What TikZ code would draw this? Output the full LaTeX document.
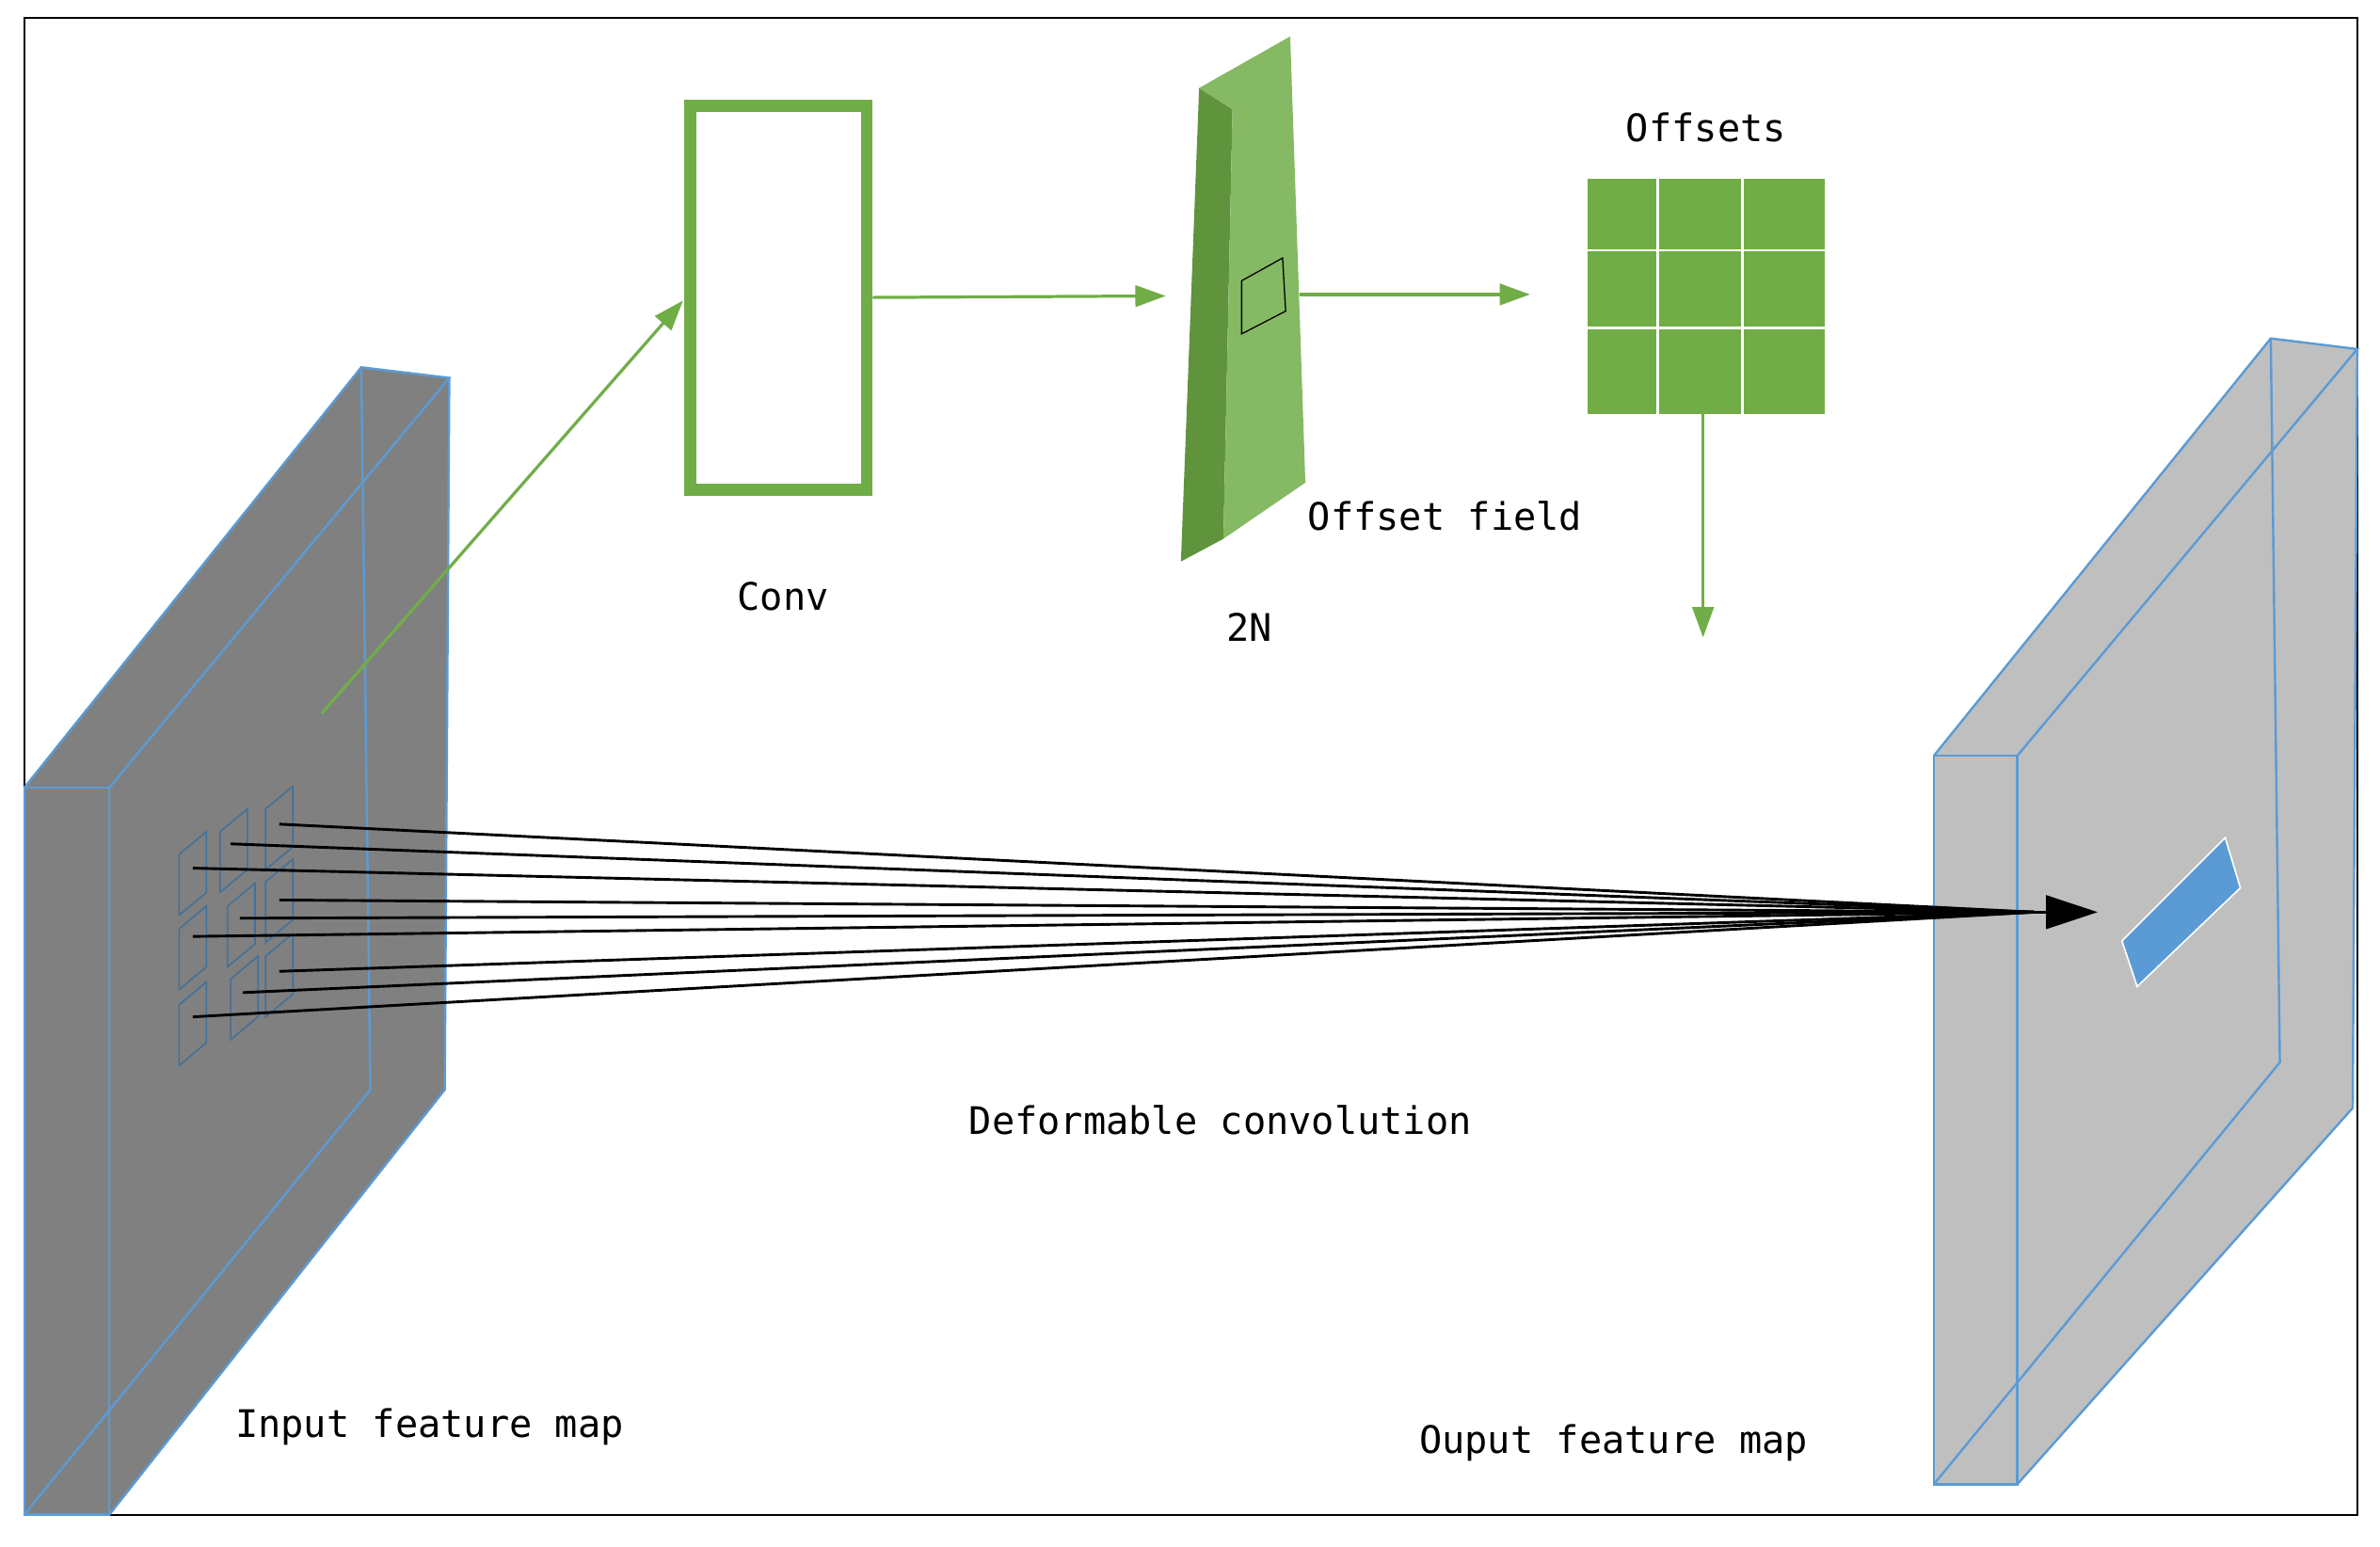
\documentclass[tikz,border=0pt]{standalone}
\usepackage{fontspec}
\setmainfont{DejaVu Sans Mono}
\usetikzlibrary{arrows.meta}
\definecolor{gr}{HTML}{70AD47}
\definecolor{bl}{HTML}{5B9BD5}
\definecolor{sq}{HTML}{41719C}
\begin{document}
\begin{tikzpicture}[x=1pt,y=-1pt,
  edge/.style={bl,line width=1.5pt},
  garrow/.style={gr,line width=2pt,-{Triangle[length=20pt,width=14pt]}},
  lbl/.style={font=\fontsize{25}{29}\selectfont},
  ray/.style={black,line width=1.8pt}]
\useasboundingbox (0,0) rectangle (1568,1019);
\draw[line width=1.2pt] (16,12) rectangle (1553,998);
% input map
\fill[black!50] (16,519)--(238,242)--(296,249)--(293,718)--(72,998)--(16,998)--cycle;
\draw[edge] (16,519) rectangle (72,998);
\draw[edge] (16,519)--(238,242)--(296,249)--(72,519);
\draw[edge] (238,242)--(244,718)--(16,998);
\draw[edge] (296,249)--(293,718)--(72,998);
% output map
\fill[black!25] (1274,498)--(1496,223)--(1553,230)--(1550,730)--(1329,978)--(1274,978)--cycle;
\draw[edge] (1274,498) rectangle (1329,978);
\draw[edge] (1274,498)--(1496,223)--(1553,230)--(1329,498);
\draw[edge] (1496,223)--(1502,700)--(1274,978);
\draw[edge] (1553,230)--(1550,730)--(1329,978);
\filldraw[fill=bl,draw=white,line width=1pt] (1398,620)--(1466,552)--(1476,585)--(1408,650)--cycle;
% small squares
\foreach \x/\y in {118/548,118/597,118/647,145/533,150/582,152/630,175/518,175/566,175/615}
  \draw[sq,line width=1pt] (\x,\y+15)--(\x+18,\y)--(\x+18,\y+40)--(\x,\y+55)--cycle;
% rays
\coordinate (c) at (1340,601);
\foreach \x/\y in {184/543,152/556,127/572,184/593,158/605,127/617,184/640,160/654,127/670}
  \draw[ray] (\x,\y)--(c);
\draw[ray,-{Triangle[length=34pt,width=22pt]}] (1300,601)--(1382,601);
% conv
\node[draw=gr,line width=8pt,minimum width=116pt,minimum height=253pt,inner sep=0] (conv) at (513,196) {};
\coordinate (s) at (212,470);
\draw[garrow] (s)--(450,198);
\draw[garrow] (conv.east)--(768,195);
% offset field slab
\fill[gr!85!black] (790,58)--(812,72)--(806,355)--(778,370)--cycle;
\fill[gr!85!white] (790,58)--(850,24)--(860,318)--(806,355)--(812,72)--cycle;
\draw[black,line width=0.8pt] (818,185)--(845,170)--(847,205)--(818,220)--cycle;
\draw[garrow] (856,194)--(1008,194);
% offsets grid
\fill[gr] (1046,118) rectangle (1202,273);
\foreach \x in {1092,1148} \draw[white,line width=1.5pt] (\x,118)--(\x,273);
\foreach \y in {165,216} \draw[white,line width=1.5pt] (1046,\y)--(1202,\y);
\draw[garrow] (1122,273)--(1122,420);
% labels
\node[lbl] (t1) at (516,393) {Conv};
\node[lbl] (t2) at (823,413) {2N};
\node[lbl] (t3) at (952,340) {Offset field};
\node[lbl] (t4) at (1124,84) {Offsets};
\node[lbl] (t5) at (804,738) {Deformable convolution};
\node[lbl] (t6) at (283,940) {Input feature map};
\node[lbl] (t7) at (1063,951) {Ouput feature map};
\end{tikzpicture}
\end{document}
